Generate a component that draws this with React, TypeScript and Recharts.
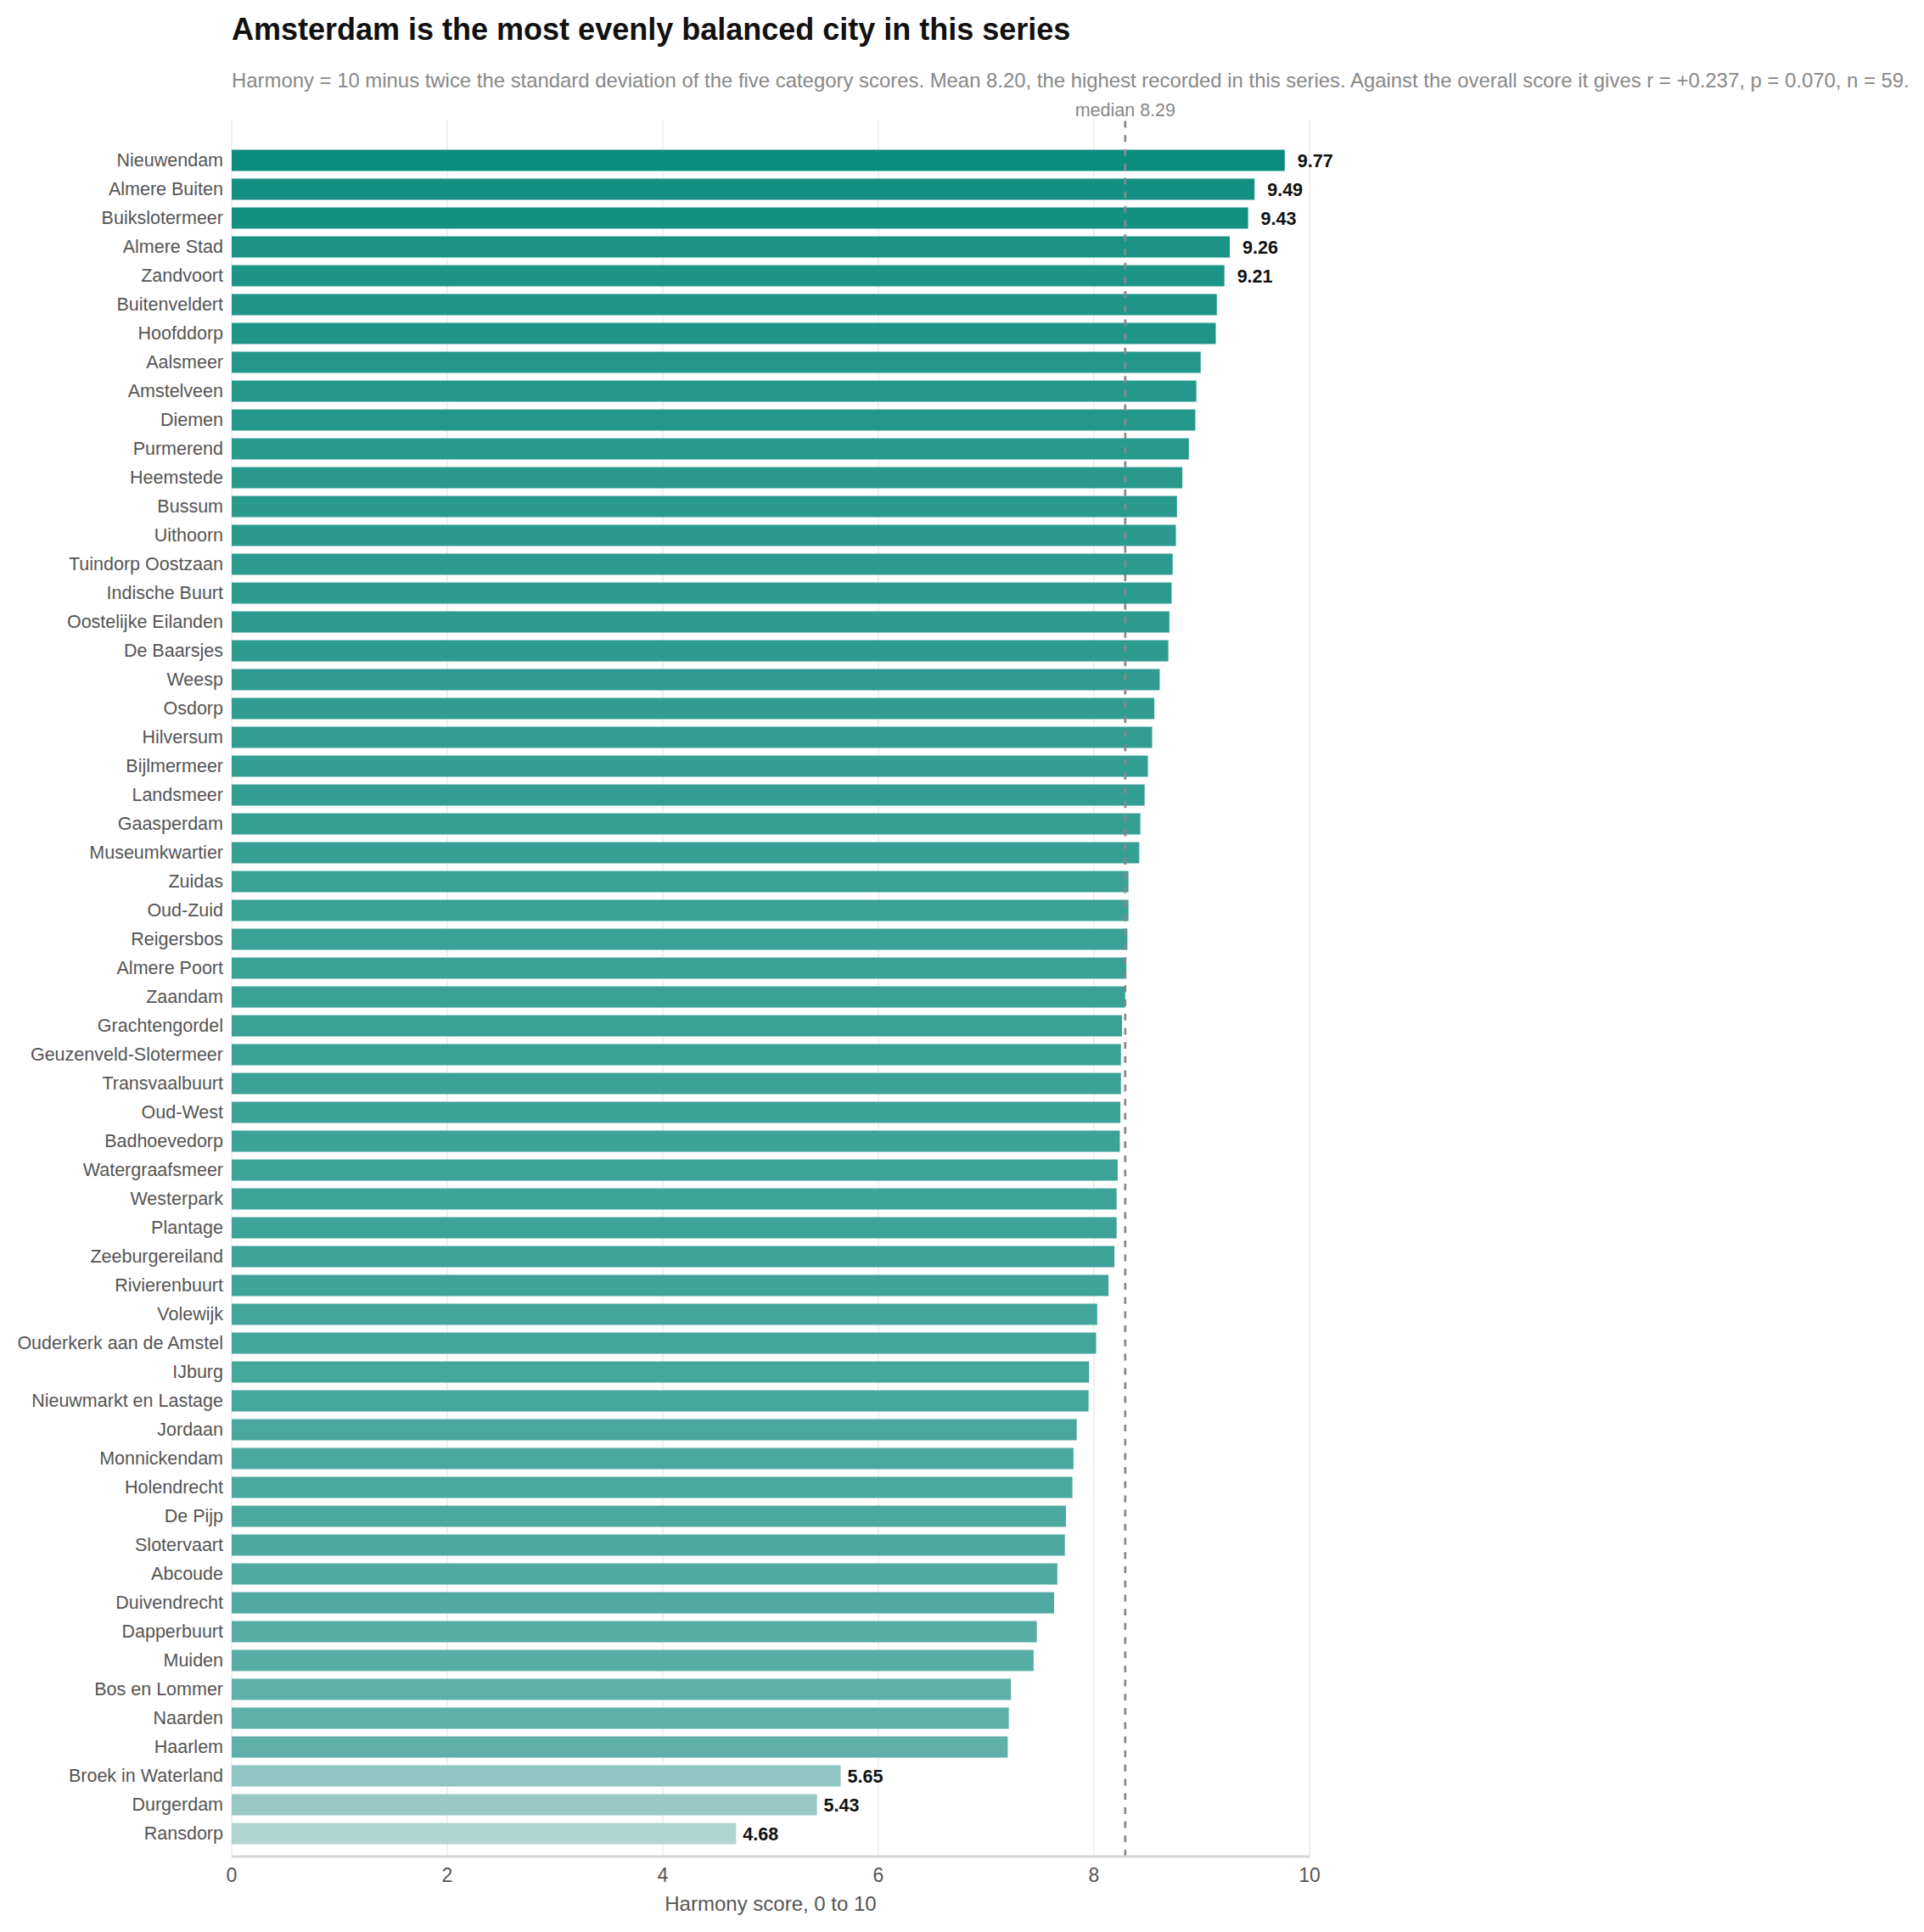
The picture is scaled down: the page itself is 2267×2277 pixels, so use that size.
import { BarChart, Bar, XAxis, YAxis, CartesianGrid, ReferenceLine, Cell, LabelList } from "recharts";

const TITLE = "Amsterdam is the most evenly balanced city in this series";
const SUBTITLE =
  "Harmony = 10 minus twice the standard deviation of the five category scores. Mean 8.20, the highest recorded in this series. Against the overall score it gives r = +0.237, p = 0.070, n = 59.";
const X_LABEL = "Harmony score, 0 to 10";

const places = [
  "Nieuwendam", "Almere Buiten", "Buikslotermeer", "Almere Stad", "Zandvoort",
  "Buitenveldert", "Hoofddorp", "Aalsmeer", "Amstelveen", "Diemen",
  "Purmerend", "Heemstede", "Bussum", "Uithoorn", "Tuindorp Oostzaan",
  "Indische Buurt", "Oostelijke Eilanden", "De Baarsjes", "Weesp", "Osdorp",
  "Hilversum", "Bijlmermeer", "Landsmeer", "Gaasperdam", "Museumkwartier",
  "Zuidas", "Oud-Zuid", "Reigersbos", "Almere Poort", "Zaandam",
  "Grachtengordel", "Geuzenveld-Slotermeer", "Transvaalbuurt", "Oud-West", "Badhoevedorp",
  "Watergraafsmeer", "Westerpark", "Plantage", "Zeeburgereiland", "Rivierenbuurt",
  "Volewijk", "Ouderkerk aan de Amstel", "IJburg", "Nieuwmarkt en Lastage", "Jordaan",
  "Monnickendam", "Holendrecht", "De Pijp", "Slotervaart", "Abcoude",
  "Duivendrecht", "Dapperbuurt", "Muiden", "Bos en Lommer", "Naarden",
  "Haarlem", "Broek in Waterland", "Durgerdam", "Ransdorp",
];

const harmony = [
  9.77, 9.49, 9.43, 9.26, 9.21,
  9.14, 9.13, 8.99, 8.95, 8.94,
  8.88, 8.82, 8.77, 8.76, 8.73,
  8.72, 8.7, 8.69, 8.61, 8.56,
  8.54, 8.5, 8.47, 8.43, 8.42,
  8.32, 8.32, 8.31, 8.3, 8.29,
  8.26, 8.25, 8.25, 8.245, 8.24,
  8.22, 8.21, 8.21, 8.19, 8.135,
  8.03, 8.02, 7.955, 7.95, 7.84,
  7.81, 7.8, 7.74, 7.73, 7.66,
  7.63, 7.47, 7.44, 7.23, 7.21,
  7.2, 5.65, 5.43, 4.68,
];

// bars that carry a value label
const labelled = [
  "Nieuwendam", "Almere Buiten", "Buikslotermeer", "Almere Stad", "Zandvoort",
  "Broek in Waterland", "Durgerdam", "Ransdorp",
];

const xTicks = [0, 2, 4, 6, 8, 10];
const MEDIAN = 8.29;

const FONT = '"Liberation Sans", Arial, Helvetica, sans-serif';
const LIGHT = [176, 212, 208];
const DARK = [10, 140, 127];

const vMin = Math.min(...harmony);
const vMax = Math.max(...harmony);

function barColor(v: number) {
  const t = (v - vMin) / (vMax - vMin);
  const c = LIGHT.map((l, i) => Math.round(l + (DARK[i] - l) * t));
  return `rgb(${c[0]},${c[1]},${c[2]})`;
}

const rows = places.map((name, i) => ({ name, value: harmony[i] }));

function ValueLabel(props: any) {
  const vb = props.viewBox && props.viewBox.width !== undefined ? props.viewBox : props;
  const { x, y, width, height } = vb;
  const { value, index } = props;
  const row = rows[index];
  if (!row || !labelled.includes(row.name)) return null;
  const gap = value > MEDIAN ? 15 : 8;
  return (
    <text
      x={x + width + gap}
      y={y + height / 2}
      dy="0.355em"
      fontSize={21.5}
      fontWeight="bold"
      fill="#111"
      fontFamily={FONT}
    >
      {Number(value).toFixed(2)}
    </text>
  );
}

export default function App() {
  return (
    <div
      style={{
        position: "absolute",
        left: 0,
        top: 0,
        width: 2267,
        height: 2277,
        background: "#fff",
        fontFamily: FONT,
      }}
    >
      <svg
        width={2267}
        height={130}
        style={{ position: "absolute", left: 0, top: 0, pointerEvents: "none" }}
      >
        <text x={273} y={46.5} fontSize={36} fontWeight="bold" fill="#111" fontFamily={FONT}>
          {TITLE}
        </text>
        <text x={273} y={103} fontSize={23.9} fill="#888" fontFamily={FONT}>
          {SUBTITLE}
        </text>
      </svg>
      <BarChart
        width={2267}
        height={2277}
        data={rows}
        layout="vertical"
        margin={{ top: 141, right: 724, bottom: 0, left: 0 }}
      >
        <CartesianGrid horizontal={false} stroke="#ebebeb" strokeWidth={1.5} />
        <XAxis
          type="number"
          domain={[0, 10]}
          ticks={xTicks}
          height={89}
          tickLine={false}
          tickMargin={8}
          axisLine={{ stroke: "#d6d6d6", strokeWidth: 3 }}
          tick={{ fill: "#555", fontSize: 23, fontFamily: FONT }}
          label={{
            value: X_LABEL,
            position: "insideBottom",
            offset: 25,
            fill: "#555",
            fontSize: 24,
            fontFamily: FONT,
          }}
        />
        <XAxis
          xAxisId="top"
          orientation="top"
          type="number"
          domain={[0, 10]}
          height={0}
          tick={false}
          tickLine={false}
          axisLine={{ stroke: "#d6d6d6", strokeWidth: 3 }}
        />
        <YAxis
          type="category"
          dataKey="name"
          width={273}
          interval={0}
          padding={{ top: 30.5, bottom: 10.5 }}
          axisLine={false}
          tickLine={false}
          tickSize={10}
          tickMargin={0}
          tick={{ fill: "#555", fontSize: 21.5, fontFamily: FONT }}
        />
        <Bar dataKey="value" barSize={25} isAnimationActive={false}>
          {rows.map((r) => (
            <Cell key={r.name} fill={barColor(r.value)} />
          ))}
          <LabelList dataKey="value" content={ValueLabel} />
        </Bar>
        <ReferenceLine
          x={MEDIAN}
          stroke="#888"
          strokeWidth={2.7}
          strokeDasharray="8 8.7"
          label={{
            value: `median ${MEDIAN.toFixed(2)}`,
            position: "top",
            offset: 4,
            fill: "#888",
            fontSize: 21.5,
            fontFamily: FONT,
          }}
        />
      </BarChart>
    </div>
  );
}
